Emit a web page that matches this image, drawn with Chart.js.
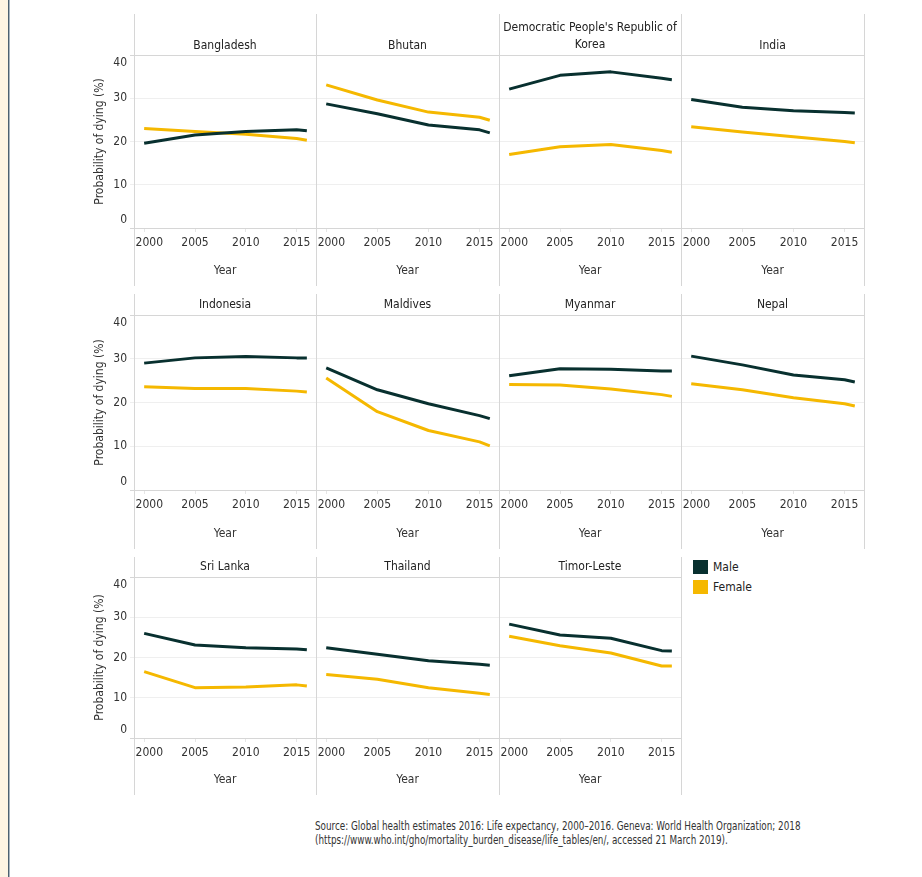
<!DOCTYPE html>
<html>
<head>
<meta charset="utf-8">
<script src="https://cdn.jsdelivr.net/npm/chart.js@4.4.0/dist/chart.umd.min.js"></script>
<style>
html,body{margin:0;padding:0;background:#fff;}
body{width:922px;height:877px;position:relative;overflow:hidden;font-family:'DejaVu Sans Condensed','Liberation Sans Narrow',sans-serif;}
#strip{position:absolute;left:0;top:0;width:8px;height:877px;background:#fdf5e3;}
#edge1{position:absolute;left:8px;top:0;width:1px;height:877px;background:#4c6170;}
#edge2{position:absolute;left:9px;top:0;width:1px;height:877px;background:#a8b6c0;}
canvas{position:absolute;}
.sw{position:absolute;width:15px;height:14px;}
.lt{position:absolute;font-size:12px;line-height:14px;color:#222;}
#source{position:absolute;left:315px;top:819px;font-size:13px;line-height:13.5px;color:#333;white-space:nowrap;transform-origin:0 0;transform:scaleX(0.753);}
</style>
</head>
<body>
<div id="strip"></div><div id="edge1"></div><div id="edge2"></div>
<div id="legend">
  <div class="sw" id="swM" style="left:693px;top:560px;"></div>
  <div class="lt" id="ltM" style="left:713px;top:560px;">Male</div>
  <div class="sw" id="swF" style="left:693px;top:580px;"></div>
  <div class="lt" id="ltF" style="left:713px;top:580px;">Female</div>
</div>
<div id="source">Source: Global health estimates 2016: Life expectancy, 2000–2016. Geneva: World Health Organization; 2018<br>(https://www.who.int/gho/mortality_burden_disease/life_tables/en/, accessed 21 March 2019).</div>
<script>
// ---------- data ----------
const years = [2000, 2005, 2010, 2015, 2016];
const xTickValues = [2000, 2005, 2010, 2015];
const yTickValues = [0, 10, 20, 30, 40];
const seriesNames = ['Male', 'Female'];
const countries = [
  ['Bangladesh'], ['Bhutan'], ["Democratic People's Republic of", 'Korea'], ['India'],
  ['Indonesia'], ['Maldives'], ['Myanmar'], ['Nepal'],
  ['Sri Lanka'], ['Thailand'], ['Timor-Leste']
];
const maleValues = [
  [19.6, 21.5, 22.3, 22.7, 22.5],
  [28.7, 26.4, 23.8, 22.7, 22.0],
  [32.1, 35.3, 36.1, 34.6, 34.3],
  [29.7, 27.9, 27.1, 26.7, 26.6],
  [29.0, 30.2, 30.5, 30.2, 30.2],
  [27.9, 22.9, 19.7, 17.0, 16.3],
  [26.1, 27.7, 27.6, 27.2, 27.2],
  [30.6, 28.6, 26.3, 25.2, 24.7],
  [26.0, 23.1, 22.4, 22.1, 21.9],
  [22.4, 20.8, 19.2, 18.3, 18.1],
  [28.3, 25.6, 24.8, 21.7, 21.6]
];
const femaleValues = [
  [23.0, 22.3, 21.7, 20.7, 20.3],
  [33.1, 29.6, 26.8, 25.6, 24.9],
  [17.0, 18.8, 19.3, 17.9, 17.5],
  [23.4, 22.2, 21.1, 20.0, 19.7],
  [23.6, 23.2, 23.2, 22.6, 22.4],
  [25.6, 17.9, 13.6, 11.0, 10.1],
  [24.1, 24.0, 23.1, 21.8, 21.4],
  [24.3, 22.9, 21.1, 19.7, 19.2],
  [16.5, 12.5, 12.7, 13.2, 12.9],
  [15.8, 14.6, 12.5, 11.1, 10.8],
  [25.3, 22.9, 21.1, 17.9, 17.9]
];

// ---------- styling / layout ----------
const MALE_COLOR = '#08302f';
const FEMALE_COLOR = '#f5b800';
const LINE_GRAY = '#d6d6d6';
const GRID_GRAY = '#efefef';
const FONT = "'DejaVu Sans Condensed','Liberation Sans Narrow',sans-serif";
document.getElementById('swM').style.background = MALE_COLOR;
document.getElementById('swF').style.background = FEMALE_COLOR;

Chart.defaults.font.family = FONT;
Chart.defaults.font.size = 12;
Chart.defaults.color = '#333';

const colEdges = [134, 316, 499, 681, 864];
const rowsGeo = [
  {top: 14,  head: 55,  axis: 228, bottom: 286, titleY: 45.5, titleY2: 28},
  {top: 294, head: 315, axis: 490, bottom: 549, titleY: 305,  titleY2: 297},
  {top: 557, head: 577, axis: 738, bottom: 795, titleY: 567,  titleY2: 559}
];
const Y_AXIS_W = 50, LEFT_PAD = 24, LH = 17;

const dividerPlugin = {
  id: 'dividers',
  beforeDatasetsDraw(chart) {
    const {ctx, chartArea} = chart;
    ctx.save();
    ctx.strokeStyle = LINE_GRAY;
    ctx.lineWidth = 1;
    [chartArea.left, chartArea.right].forEach(x => {
      const px = Math.round(x) + 0.5;
      ctx.beginPath();
      ctx.moveTo(px, 0);
      ctx.lineTo(px, chart.height);
      ctx.stroke();
    });
    ctx.restore();
  }
};

countries.forEach((name, i) => {
  const r = Math.floor(i / 4), c = i % 4;
  const g = rowsGeo[r];
  const left = colEdges[c] - (c === 0 ? Y_AXIS_W : LEFT_PAD);
  const width = colEdges[c + 1] - left + 1;
  const height = g.bottom - g.top;
  const cv = document.createElement('canvas');
  cv.width = width; cv.height = height;
  cv.style.left = left + 'px'; cv.style.top = g.top + 'px';
  cv.style.width = width + 'px'; cv.style.height = height + 'px';
  document.body.appendChild(cv);

  const n = name.length;
  const firstCenter = (n > 1 ? g.titleY2 : g.titleY) - g.top;
  const padTop = firstCenter - LH / 2;
  const padBottom = (g.head - g.top) - padTop - n * LH;

  new Chart(cv, {
    type: 'line',
    data: {
      datasets: [
        {label: seriesNames[0], data: years.map((yr, k) => ({x: yr, y: maleValues[i][k]})),
         borderColor: MALE_COLOR, backgroundColor: MALE_COLOR, borderWidth: 3, pointRadius: 0, tension: 0, fill: false, borderJoinStyle: 'round'},
        {label: seriesNames[1], data: years.map((yr, k) => ({x: yr, y: femaleValues[i][k]})),
         borderColor: FEMALE_COLOR, backgroundColor: FEMALE_COLOR, borderWidth: 3, pointRadius: 0, tension: 0, fill: false, borderJoinStyle: 'round'}
      ]
    },
    options: {
      responsive: false,
      animation: false,
      devicePixelRatio: 1,
      events: [],
      layout: {padding: {left: c === 0 ? 0 : LEFT_PAD, right: 1, top: 0, bottom: 0}},
      plugins: {
        legend: {display: false},
        tooltip: {enabled: false},
        title: {
          display: true, text: name, fullSize: false, color: '#222',
          font: {size: 12, weight: 'normal', lineHeight: LH + 'px'},
          padding: {top: padTop, bottom: padBottom}
        }
      },
      scales: {
        x: {
          type: 'linear', min: 1999, max: 2016.9,
          afterBuildTicks: s => { s.ticks = xTickValues.map(v => ({value: v})); },
          afterFit: s => { s.height = g.bottom - g.axis; },
          grid: {display: true, drawOnChartArea: false, drawTicks: true, tickLength: 4, color: '#e6e6e6'},
          border: {display: true, color: LINE_GRAY},
          ticks: {color: '#333', padding: 4, maxRotation: 0, autoSkip: false,
                  callback: v => (v === 2000 ? '   2000' : String(v))},
          title: {display: true, text: 'Year', color: '#333', padding: {top: 0, bottom: 8}}
        },
        y: {
          min: 0, max: 40,
          afterBuildTicks: s => { s.ticks = yTickValues.map(v => ({value: v})); },
          afterFit: s => { s.width = c === 0 ? Y_AXIS_W : 0; },
          grid: {
            color: ctx => (ctx.tick && (ctx.tick.value === 40 || ctx.tick.value === 0)) ? LINE_GRAY : GRID_GRAY,
            drawTicks: c === 0, tickLength: 4
          },
          border: {display: false},
          ticks: {display: c === 0, color: '#333', padding: 3, font: {size: 12, lineHeight: '16px'},
                  callback: v => (v === 40 ? ['', '40'] : v === 0 ? ['0', ''] : String(v))},
          title: {display: c === 0, text: 'Probability of dying (%)', color: '#333', padding: {top: 9, bottom: 0}}
        }
      }
    },
    plugins: [dividerPlugin]
  });
});
</script>
</body>
</html>
